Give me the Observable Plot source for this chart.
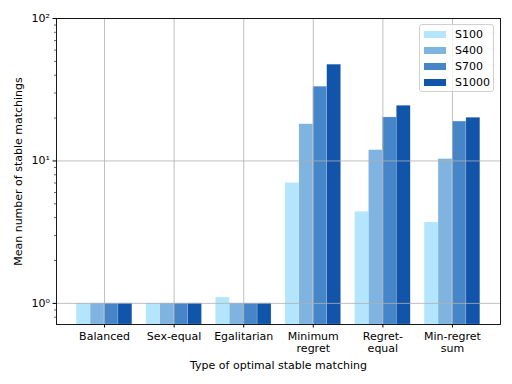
<!DOCTYPE html>
<html>
<head>
<meta charset="utf-8">
<script src="https://cdn.jsdelivr.net/npm/d3@7"></script>
<script src="https://cdn.jsdelivr.net/npm/@observablehq/plot@0.6"></script>
<style>
  html, body { margin: 0; padding: 0; background: white; }
  #wrap { position: relative; width: 512px; height: 384px; font-family: "DejaVu Sans", sans-serif; }
  #legend { position: absolute; left: 419px; top: 24px; width: 75px; height: 68px;
    background: rgba(255,255,255,0.8); border: 1px solid #d0d0d0; border-radius: 3px; box-sizing: border-box; }
  .row { position: absolute; left: 4px; height: 14px; display: flex; align-items: center; font-size: 11px; color: #000; }
  .sw { width: 22px; height: 7px; margin-right: 9px; }
</style>
</head>
<body>
<div id="wrap"></div>
<script>
const categories = ["Balanced", "Sex-equal", "Egalitarian", "Minimum\nregret", "Regret-\nequal", "Min-regret\nsum"];
const series = ["S100", "S400", "S700", "S1000"];
const S100  = [1, 1, 1.1, 7.0, 4.4, 3.7];
const S400  = [1, 1, 1, 18.1, 11.9, 10.3];
const S700  = [1, 1, 1, 33.2, 20.2, 18.9];
const S1000 = [1, 1, 1, 47.4, 24.4, 20.1];
const colors = ["#b3e5fc", "#7fb3e0", "#4585c8", "#1155ab"];
const yTicks = [1, 10, 100];
const yTickLabels = ["10⁰", "10¹", "10²"];
const yMinorTicks = [0.8, 0.9, 2, 3, 4, 5, 6, 7, 8, 9, 20, 30, 40, 50, 60, 70, 80, 90];
const xLabel = "Type of optimal stable matching";
const yLabel = "Mean number of stable matchings";

const values = [S100, S400, S700, S1000];
const yMin = 0.711;
const barW = 0.2;
const data = [];
categories.forEach((c, i) => {
  series.forEach((s, j) => {
    data.push({g: i, s, x1: i - 0.4 + j * barW, x2: i - 0.4 + (j + 1) * barW, v: values[j][i]});
  });
});

const chart = Plot.plot({
  width: 512,
  height: 384,
  marginLeft: 56,
  marginRight: 12,
  marginTop: 18,
  marginBottom: 60,
  style: {fontFamily: "DejaVu Sans", fontSize: "11px", background: "white", color: "black"},
  x: {type: "linear", domain: [-0.69, 5.69]},
  y: {type: "log", domain: [yMin, 100]},
  color: {domain: series, range: colors},
  marks: [
    Plot.rect(data, {x1: "x1", x2: "x2", y1: yMin, y2: "v", fill: "s", stroke: "white", strokeOpacity: 0.35, strokeWidth: 0.5}),
    Plot.gridY(yTicks, {stroke: "#b0b0b0", strokeOpacity: 1, strokeWidth: 0.8}),
    Plot.gridX(d3.range(categories.length), {stroke: "#b0b0b0", strokeOpacity: 1, strokeWidth: 0.8}),
    Plot.axisY(yMinorTicks, {tickSize: 2, tickFormat: () => "", label: null, strokeWidth: 0.6}),
    Plot.axisY(yTicks, {tickSize: 3.5, tickPadding: 3, tickFormat: d => yTickLabels[yTicks.indexOf(d)], label: null, fontSize: 11}),
    Plot.axisX(d3.range(categories.length), {tickSize: 3.5, tickPadding: 3, tickFormat: i => categories[i], label: null, lineHeight: 1.12, fontSize: 11}),
    Plot.text([xLabel], {frameAnchor: "bottom", dy: 41, text: d => d, textAnchor: "middle", lineAnchor: "middle", fontSize: 11}),
    Plot.text([yLabel], {frameAnchor: "left", dx: -38, rotate: -90, text: d => d, textAnchor: "middle", lineAnchor: "middle", fontSize: 11}),
    Plot.frame({stroke: "black", strokeWidth: 0.9})
  ]
});

const wrap = document.getElementById("wrap");
wrap.appendChild(chart);

const legend = document.createElement("div");
legend.id = "legend";
series.forEach((s, j) => {
  const row = document.createElement("div");
  row.className = "row";
  row.style.top = (2 + j * 16) + "px";
  const sw = document.createElement("div");
  sw.className = "sw";
  sw.style.background = colors[j];
  const t = document.createElement("span");
  t.textContent = s;
  row.appendChild(sw);
  row.appendChild(t);
  legend.appendChild(row);
});
wrap.appendChild(legend);
</script>
</body>
</html>
